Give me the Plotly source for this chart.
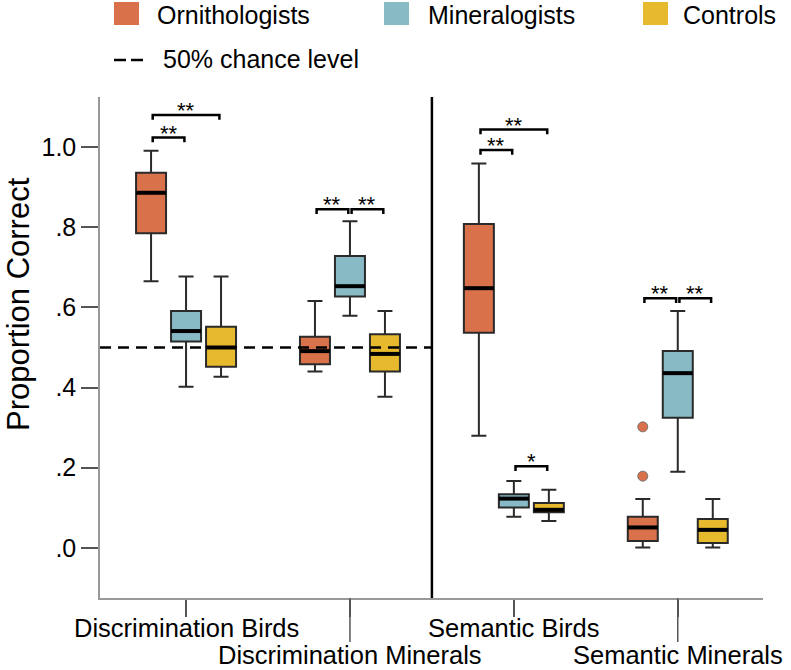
import plotly.graph_objects as go

# ---------------- data ----------------
categories = ["Discrimination Birds", "Discrimination Minerals", "Semantic Birds", "Semantic Minerals"]
groups = ["Ornithologists", "Mineralogists", "Controls"]

orn_upper = [0.991, 0.616, 0.959, 0.122]
orn_q3 = [0.936, 0.527, 0.808, 0.078]
orn_median = [0.886, 0.491, 0.648, 0.051]
orn_q1 = [0.785, 0.458, 0.537, 0.017]
orn_lower = [0.665, 0.440, 0.280, 0.001]

min_upper = [0.677, 0.815, 0.167, 0.591]
min_q3 = [0.591, 0.728, 0.134, 0.491]
min_median = [0.541, 0.653, 0.123, 0.436]
min_q1 = [0.515, 0.627, 0.101, 0.325]
min_lower = [0.402, 0.579, 0.078, 0.190]

ctl_upper = [0.677, 0.591, 0.145, 0.122]
ctl_q3 = [0.552, 0.533, 0.112, 0.072]
ctl_median = [0.500, 0.484, 0.095, 0.045]
ctl_q1 = [0.452, 0.440, 0.089, 0.012]
ctl_lower = [0.427, 0.377, 0.067, 0.001]

orn_outlier_cat = [3, 3]
orn_outlier_val = [0.302, 0.179]

chance_level = 0.5
chance_label = "50% chance level"

y_tickvals = [0, 0.2, 0.4, 0.6, 0.8, 1.0]
y_ticktext = [".0", ".2", ".4", ".6", ".8", "1.0"]

# significance brackets: category, group a, group b, bracket level, label
sig_cat = [0, 0, 1, 1, 2, 2, 2, 3, 3]
sig_a = [0, 0, 0, 1, 0, 0, 1, 0, 1]
sig_b = [1, 2, 1, 2, 2, 1, 2, 1, 2]
sig_y = [1.024, 1.080, 0.845, 0.845, 1.044, 0.993, 0.204, 0.623, 0.623]
sig_label = ["**", "**", "**", "**", "**", "**", "*", "**", "**"]

# ---------------- style ----------------
colors = ["#D9714A", "#88BAC5", "#E6BA2C"]
offsets = [-0.2135, 0.0, 0.2135]
box_w = 0.183
FONT = "Liberation Sans, Arial, sans-serif"
x_range = [-0.525, 3.52]
y_range = [-0.125, 1.125]

stats = [
    (orn_lower, orn_q1, orn_median, orn_q3, orn_upper),
    (min_lower, min_q1, min_median, min_q3, min_upper),
    (ctl_lower, ctl_q1, ctl_median, ctl_q3, ctl_upper),
]

fig = go.Figure()

for g, (lo, q1, med, q3, up) in enumerate(stats):
    xs = [i + offsets[g] for i in range(len(categories))]
    fig.add_trace(go.Box(
        x=xs, lowerfence=lo, q1=q1, median=med, q3=q3, upperfence=up,
        width=box_w, whiskerwidth=0.5,
        fillcolor=colors[g], line=dict(color="#2a2a2a", width=2),
        boxpoints=False, showlegend=False, name=groups[g],
    ))
    # thicker median line
    mx, my = [], []
    for x, m in zip(xs, med):
        mx += [x - box_w / 2, x + box_w / 2, None]
        my += [m, m, None]
    fig.add_trace(go.Scatter(x=mx, y=my, mode="lines",
                             line=dict(color="black", width=4),
                             showlegend=False, hoverinfo="skip"))

# outliers
fig.add_trace(go.Scatter(
    x=[c + offsets[0] for c in orn_outlier_cat], y=orn_outlier_val, mode="markers",
    marker=dict(color=colors[0], size=10, line=dict(color="#777", width=1)),
    showlegend=False))

# significance brackets
leg = 0.012
shrink = 0.01
bx, by = [], []
for c, a, b, yv, lab in zip(sig_cat, sig_a, sig_b, sig_y, sig_label):
    xa = c + offsets[a] + shrink
    xb = c + offsets[b] - shrink
    bx += [xa, xa, xb, xb, None]
    by += [yv - leg, yv, yv, yv - leg, None]
    fig.add_annotation(x=(xa + xb) / 2, y=yv + 0.011, text=lab, showarrow=False,
                       xanchor="center", yanchor="middle",
                       font=dict(family=FONT, size=22, color="black"))
fig.add_trace(go.Scatter(x=bx, y=by, mode="lines", line=dict(color="black", width=2.5),
                         showlegend=False, hoverinfo="skip"))

# chance level line (left panel) and divider
fig.add_shape(type="line", xref="x", yref="y", x0=x_range[0], x1=1.5,
              y0=chance_level, y1=chance_level,
              line=dict(color="black", width=2.5, dash="11px,7px"))
fig.add_shape(type="line", xref="x", yref="paper", x0=1.5, x1=1.5, y0=0, y1=1,
              line=dict(color="black", width=2.5))

H = 501.0
W = 663.0


def px_x(p):
    return (p - 100) / W


def px_y(p):
    return (598 - p) / H


# longer ticks for staggered labels
for c in [1, 3]:
    fig.add_shape(type="line", xref="x", yref="paper", x0=c, x1=c, y0=0, y1=px_y(642),
                  line=dict(color="#555", width=1.5))

# category labels (staggered)
for i, lab in enumerate(categories):
    fig.add_annotation(xref="x", yref="paper", x=i, y=px_y(628 if i % 2 == 0 else 655),
                       text=lab, showarrow=False, xanchor="center", yanchor="middle",
                       font=dict(family=FONT, size=25.5, color="black"))

# manual legend
sq_left = [114, 384, 643]
txt_left = [157, 428, 683]
for g in range(3):
    fig.add_shape(type="rect", xref="paper", yref="paper",
                  x0=px_x(sq_left[g]), x1=px_x(sq_left[g] + 25),
                  y0=px_y(25), y1=px_y(2), fillcolor=colors[g], line=dict(width=0))
    fig.add_annotation(xref="paper", yref="paper", x=px_x(txt_left[g] - 2), y=px_y(15),
                       text=groups[g], showarrow=False, xanchor="left", yanchor="middle",
                       font=dict(family=FONT, size=25, color="black"))
fig.add_shape(type="line", xref="paper", yref="paper", x0=px_x(114), x1=px_x(143),
              y0=px_y(60), y1=px_y(60), line=dict(color="black", width=2.5, dash="12px,5px"))
fig.add_annotation(xref="paper", yref="paper", x=px_x(161), y=px_y(59),
                   text=chance_label, showarrow=False, xanchor="left", yanchor="middle",
                   font=dict(family=FONT, size=25, color="black"))

# y title
fig.add_annotation(xref="paper", yref="paper", x=px_x(18), y=px_y(304),
                   text="Proportion Correct", textangle=-90, showarrow=False,
                   xanchor="center", yanchor="middle",
                   font=dict(family=FONT, size=31, color="black"))

fig.update_layout(
    width=791, height=670,
    margin=dict(l=100, r=28, t=97, b=72),
    plot_bgcolor="white", paper_bgcolor="white",
    font=dict(family=FONT, color="black"),
    boxmode="overlay",
    xaxis=dict(range=x_range, tickvals=list(range(len(categories))), showticklabels=False,
               showline=True, linecolor="#999", linewidth=1.5, automargin=False,
               ticks="outside", ticklen=17, tickcolor="#555", tickwidth=1.5,
               showgrid=False, zeroline=False),
    yaxis=dict(range=y_range, tickvals=y_tickvals, ticktext=y_ticktext,
               showline=True, linecolor="#999", linewidth=1.5, automargin=False,
               ticks="outside", ticklen=17, tickcolor="#555", tickwidth=1.5,
               showgrid=False, zeroline=False, tickfont=dict(size=25, family=FONT)),
)

fig.write_html("out.html", config={"displayModeBar": False},
               post_script="document.body.style.margin='0px';")
